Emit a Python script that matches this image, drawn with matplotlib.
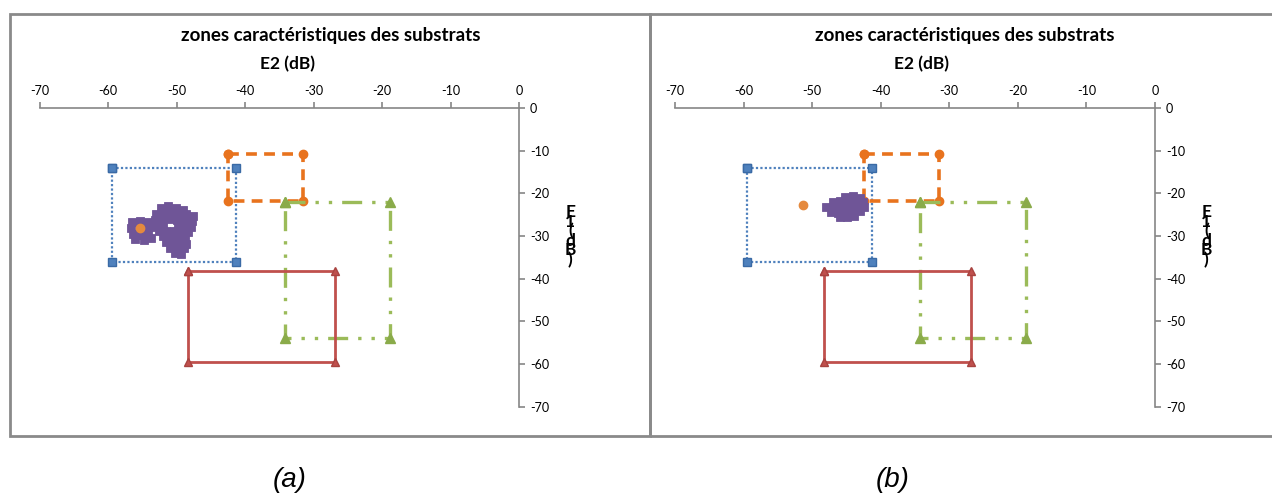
import matplotlib.pyplot as plt
from matplotlib.patches import Rectangle

plt.rcParams['font.family'] = ['Lato', 'DejaVu Sans']
plt.rcParams['axes.unicode_minus'] = False

# corner points of the substrate zones (E2, E1) in dB, closed loops
blue_x = [-59.5, -41.3, -41.3, -59.5, -59.5]
blue_y = [-14.0, -14.0, -36.1, -36.1, -14.0]
orange_x = [-42.5, -31.5, -31.5, -42.5, -42.5]
orange_y = [-10.7, -10.7, -21.8, -21.8, -10.7]
green_x = [-34.2, -18.8, -18.8, -34.2, -34.2]
green_y = [-22.0, -22.0, -54.0, -54.0, -22.0]
red_x = [-48.3, -26.9, -26.9, -48.3, -48.3]
red_y = [-38.3, -38.3, -59.6, -59.6, -38.3]

# measured clouds
cloud_a_x = [-56.5, -55.3, -54.2, -56.6, -55.4, -54.3, -53.3, -56.4, -55.3, -54.2,
             -56.0, -54.8, -53.8,
             -52.3, -51.2, -50.1, -49.0,
             -53.0, -51.9, -50.8, -49.7, -48.6, -47.6,
             -53.2, -52.1, -51.0, -49.9, -48.8, -47.8,
             -53.0, -52.0, -49.8, -48.7, -47.9,
             -52.6, -51.5, -50.4, -49.3, -48.4,
             -52.0, -50.9, -49.8, -48.8,
             -51.6, -50.5, -49.4, -48.6,
             -51.0, -49.9, -48.9,
             -50.3, -49.3]
cloud_a_y = [-26.8, -26.5, -26.8, -28.2, -28.0, -28.3, -27.8, -29.6, -29.7, -29.5,
             -30.8, -31.0, -30.5,
             -23.5, -23.0, -23.4, -23.8,
             -24.8, -24.6, -24.5, -24.9, -24.8, -25.3,
             -26.2, -26.0, -26.0, -26.2, -26.1, -26.5,
             -27.5, -27.6, -27.6, -27.4, -27.8,
             -28.9, -28.8, -28.8, -28.9, -29.0,
             -30.1, -30.2, -30.0, -30.3,
             -31.4, -31.5, -31.4, -31.8,
             -32.7, -32.8, -32.9,
             -33.9, -34.2]
cloud_b_x = [-45.2, -44.0, -43.0,
             -47.0, -45.9, -44.8, -43.7, -42.6,
             -48.0, -46.9, -45.8, -44.7, -43.6, -42.5,
             -47.3, -46.2, -45.1, -44.0, -43.0,
             -46.0, -44.9, -43.9]
cloud_b_y = [-20.8, -20.6, -21.2,
             -22.0, -21.9, -21.8, -21.9, -22.1,
             -23.2, -23.1, -23.1, -23.0, -23.1, -23.3,
             -24.4, -24.5, -24.4, -24.3, -24.2,
             -25.5, -25.6, -25.2]
point_a = (-55.4, -28.1)
point_b = (-51.4, -22.7)

ticks = [-70, -60, -50, -40, -30, -20, -10, 0]
title = 'zones caractéristiques des substrats'

W, H = 1272, 494
fig = plt.figure(figsize=(12.72, 4.94), dpi=100)

# outer frames of the two chart panels
for x0, w in [(10, 640), (650, 640)]:
    fig.patches.append(Rectangle((x0 / W, 1 - 436 / H), w / W, 422 / H,
                                 transform=fig.transFigure, fill=False,
                                 edgecolor='#8a8a8a', linewidth=2))


def draw_panel(ax, cx, cy, pt):
    ax.plot(blue_x, blue_y, color='#4F81BD', lw=1.6, ls=(0, (1, 1)),
            marker='s', ms=6, mfc='#4F81BD', mec='#3a6aa5')
    ax.plot(orange_x, orange_y, color='#E8731E', lw=2.6, ls=(0, (3, 2)),
            marker='o', ms=6, mfc='#E8731E', mec='#E8731E')
    ax.plot(green_x, green_y, color='#9BBB59', lw=2.4, ls=(0, (6, 3, 1, 3, 1, 3)),
            marker='^', ms=7, mfc='#8aab4a', mec='#8aab4a')
    ax.plot(red_x, red_y, color='#C0504D', lw=2, ls='-',
            marker='^', ms=6, mfc='#C0504D', mec='#a84340')
    ax.plot(cx, cy, ls='none', marker='s', ms=5.5, mew=0.6,
            color='#6F5597', mec='#6F5597')
    ax.plot(*pt, ls='none', marker='o', ms=6, color='#E58A3E')

    ax.set_xlim(-70, 0)
    ax.set_ylim(-70, 0)
    ax.spines['left'].set_visible(False)
    ax.spines['bottom'].set_visible(False)
    for s in ['top', 'right']:
        ax.spines[s].set_color('#868686')
        ax.spines[s].set_linewidth(1.2)
    ax.xaxis.tick_top()
    ax.yaxis.tick_right()
    ax.set_xticks(ticks)
    ax.set_yticks(ticks)
    ax.tick_params(direction='out', length=4, width=1.2, color='#868686',
                   labelsize=9, pad=4)
    ax.text(1.107, -30, 'E\n1\n(\nd\nB\n)', transform=ax.get_yaxis_transform(),
            ha='center', va='center', fontsize=12.5, fontweight='bold',
            linespacing=0.5)


ax1 = fig.add_axes([39.6 / W, 1 - 406.7 / H, 479.4 / W, 298.7 / H])
ax2 = fig.add_axes([675 / W, 1 - 406.7 / H, 480 / W, 298.7 / H])
draw_panel(ax1, cloud_a_x, cloud_a_y, point_a)
draw_panel(ax2, cloud_b_x, cloud_b_y, point_b)

for tx, lx in [(331, 287), (965, 922)]:
    fig.text(tx / W, 1 - 36 / H, title, fontsize=13.5, fontweight='bold',
             ha='center', va='center')
    fig.text(lx / W, 1 - 64 / H, 'E2 (dB)', fontsize=12.5, fontweight='bold',
             ha='center', va='center')

fig.text(290 / W, 1 - 480 / H, '(a)', fontsize=20, style='italic',
         family=['Liberation Sans'], ha='center', va='center')
fig.text(893 / W, 1 - 480 / H, '(b)', fontsize=20, style='italic',
         family=['Liberation Sans'], ha='center', va='center')

fig.savefig('out.png', dpi=100)
